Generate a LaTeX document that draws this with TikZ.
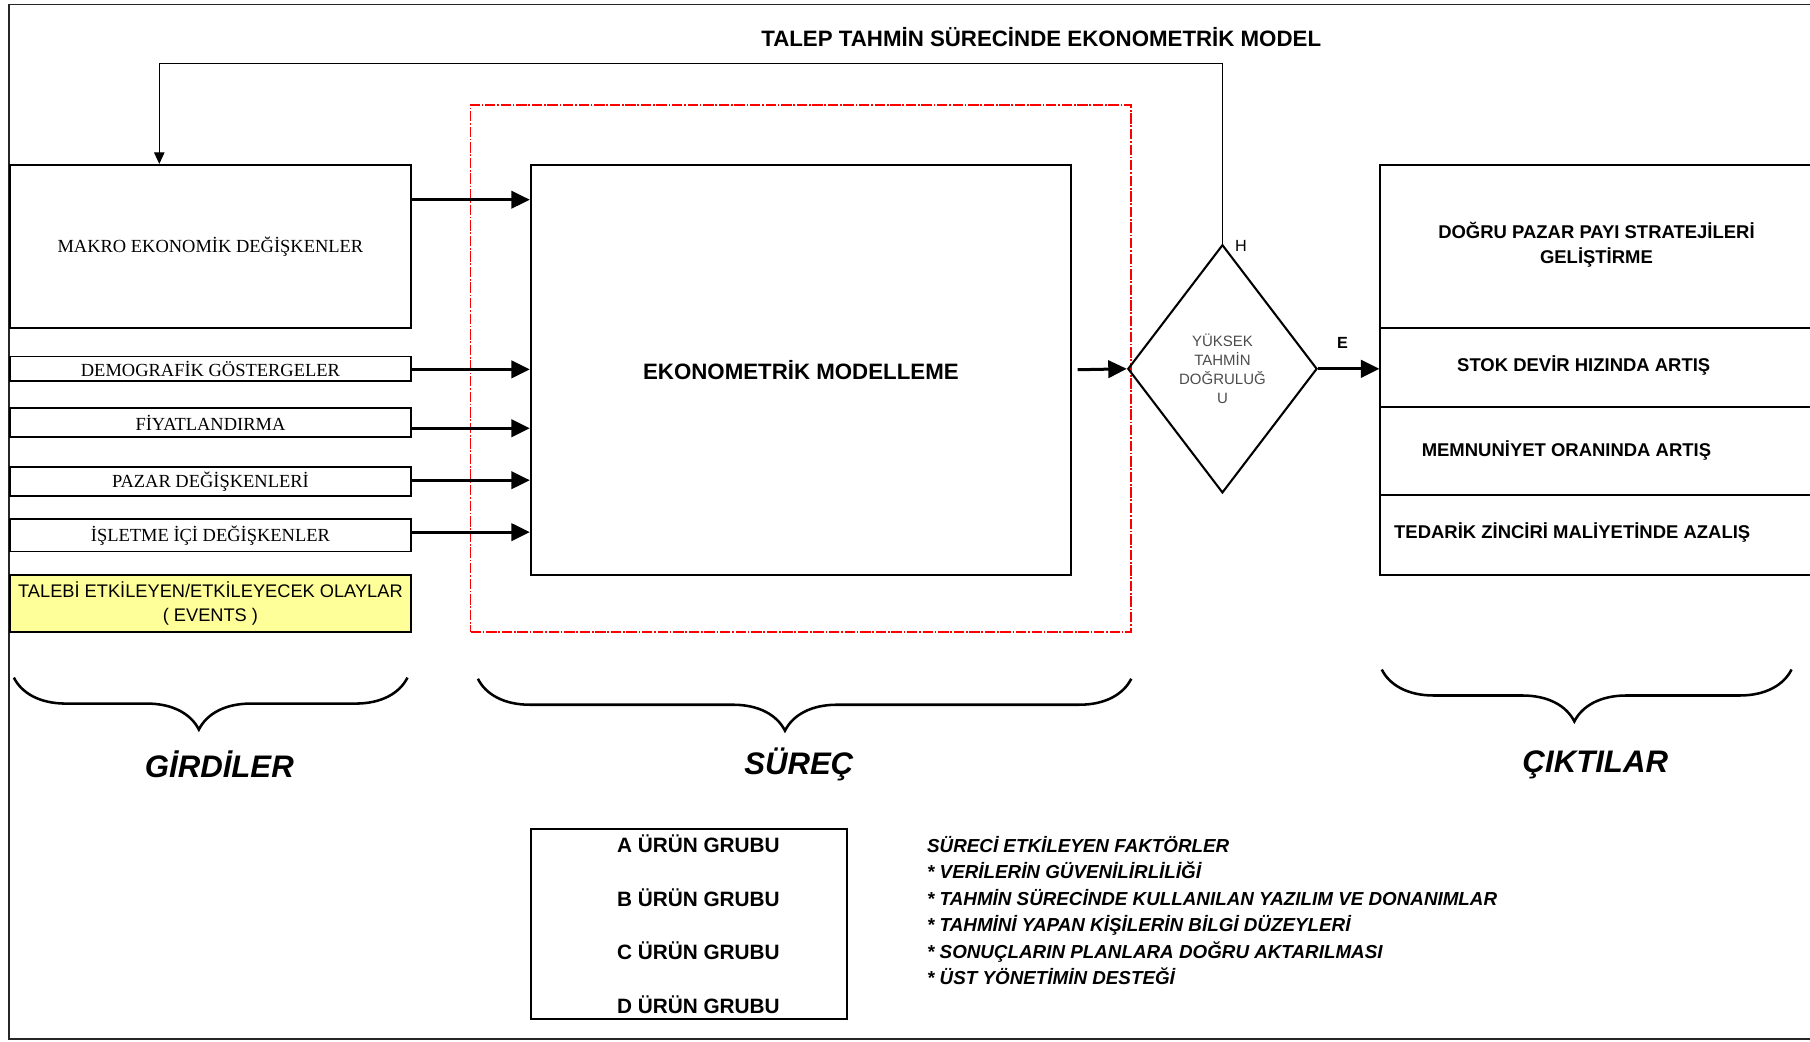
\documentclass[tikz,border=0pt]{standalone}
\usepackage{fontspec}
\setmainfont{Liberation Serif}
\setsansfont{Liberation Sans}
\usetikzlibrary{arrows.meta,shapes.geometric,decorations.pathreplacing,calc}
\definecolor{evyellow}{HTML}{FFFF99}
\newcommand\setfs[2]{\fontsize{#1}{#2}\selectfont}

\begin{document}
\begin{tikzpicture}[x=1pt,y=-1pt,
  boxline/.style={draw=black,line width=1.6pt},
  inbox/.style={boxline,anchor=north west,inner sep=0pt,minimum width=347pt,
    font=\setfs{16}{18}},
  outbox/.style={boxline,anchor=north west,inner sep=0pt,minimum width=420pt},
  outtext/.style={font=\sffamily\bfseries\setfs{16}{21},align=center},
  flow/.style={line width=2.6pt,-{Triangle[length=16pt,width=15pt]}},
  fb/.style={line width=0.9pt,-{Triangle[length=10pt,width=9pt]}},
  brc/.style={line width=2.2pt,decorate,
    decoration={brace,mirror,amplitude=45pt,aspect=0.47}},
  lbl/.style={font=\sffamily\bfseries\itshape\setfs{27}{30}},
  heading/.style={font=\sffamily\bfseries\setfs{19.3}{22}}
]
\useasboundingbox (0,0) rectangle (1568,902);
\clip (0,0) rectangle (1568,902);

% outer frame (open to the right)
\draw[line width=1.4pt,black!85] (1600,4) -| (8,900) -- (1600,900);

% title
\node[heading] (title) at (902,32) {TALEP TAHMİN SÜRECİNDE EKONOMETRİK MODEL};

% inputs
\node[inbox,minimum height=141pt] (makro) at (8,142) {MAKRO EKONOMİK DEĞİŞKENLER};
\node[inbox,minimum height=21pt] (demo) at (8,308) {DEMOGRAFİK GÖSTERGELER};
\node[inbox,minimum height=25pt] (fiyat) at (8,353) {FİYATLANDIRMA};
\node[inbox,minimum height=25pt] (pazar) at (8,404) {PAZAR DEĞİŞKENLERİ};
\node[inbox,minimum height=28pt] (islet) at (8,449) {İŞLETME İÇİ DEĞİŞKENLER};
\node[inbox,minimum height=50pt,fill=evyellow,align=center,
  font=\sffamily\setfs{15.8}{20}] (events) at (8,497)
  {TALEBİ ETKİLEYEN/ETKİLEYECEK OLAYLAR\\( EVENTS )};

% process
\node[draw=red,line width=1.4pt,dash pattern=on 9pt off 1.5pt on 1.5pt off 1.5pt,
  anchor=north west,inner sep=0pt,minimum width=572pt,minimum height=457pt]
  (surec) at (407,90) {};
\node[boxline,anchor=north west,inner sep=0pt,minimum width=468pt,
  minimum height=355pt,heading] (model) at (459,142) {EKONOMETRİK MODELLEME};

% decision
\node[diamond,boxline,line width=1.8pt,minimum width=164pt,minimum height=215pt,
  inner sep=0pt,align=center,text=black!70,font=\sffamily\setfs{13}{16.5}]
  (dia) at (1059,319.5) {YÜKSEK\\TAHMİN\\DOĞRULUĞ\\U};
\node[font=\sffamily\setfs{14}{16}] (hlab) at (1075,213) {H};
\node[font=\sffamily\bfseries\setfs{14}{16}] (elab) at (1163,297) {E};

% outputs
\node[outbox,minimum height=141pt] (o1) at (1195,142) {};
\node[outbox,minimum height=69pt] (o2) at (1195,283) {};
\node[outbox,minimum height=76pt] (o3) at (1195,352) {};
\node[outbox,minimum height=69pt] (o4) at (1195,428) {};
\node[outtext] (t1) at (1383,212) {DOĞRU PAZAR PAYI STRATEJİLERİ\\GELİŞTİRME};
\node[outtext] (t2) at (1372,317) {STOK DEVİR HIZINDA ARTIŞ};
\node[outtext] (t3) at (1357,390) {MEMNUNİYET ORANINDA ARTIŞ};
\node[outtext] (t4) at (1362,461) {TEDARİK ZİNCİRİ MALİYETİNDE AZALIŞ};

% connectors
\draw[flow] (makro.east |- 0,173) -- (model.west |- 0,173);
\draw[flow] (demo.east |- 0,320) -- (model.west |- 0,320);
\draw[flow] (fiyat.east |- 0,371) -- (model.west |- 0,371);
\draw[flow] (pazar.east |- 0,416) -- (model.west |- 0,416);
\draw[flow] (islet.east |- 0,461) -- (model.west |- 0,461);
\draw[flow] (model.east) ++(5,0) -- (dia.west);
\draw[flow] (dia.east) -- (dia.east -| o2.west);
\coordinate (fbturn) at (138,55);
\draw[fb] (dia.north) |- (fbturn) -- (fbturn |- makro.north);

% braces and section labels
\draw[brc] (12,587) -- (353,587);
\draw[brc] (414,588) -- (980,588);
\draw[brc] (1197,580) -- (1552,580);
\node[lbl] (gird) at (190,662) {GİRDİLER};
\node[lbl] (surecl) at (692,662) {SÜREÇ};
\node[lbl] (cikt) at (1382,663) {ÇIKTILAR};

% product groups
\node[boxline,anchor=north west,inner sep=0pt,minimum width=274pt,
  minimum height=165pt] (urun) at (459,717) {};
\node[font=\sffamily\bfseries\setfs{18}{46.3},align=center] (urunt) at (605,800.5)
  {A ÜRÜN GRUBU\\B ÜRÜN GRUBU\\C ÜRÜN GRUBU\\D ÜRÜN GRUBU};

% factors
\node[font=\sffamily\bfseries\itshape\setfs{16.3}{23},align=left,anchor=north west,
  inner sep=0pt] (fakt) at (803,724)
  {SÜRECİ ETKİLEYEN FAKTÖRLER\\
   * VERİLERİN GÜVENİLİRLİLİĞİ\\
   * TAHMİN SÜRECİNDE KULLANILAN YAZILIM VE DONANIMLAR\\
   * TAHMİNİ YAPAN KİŞİLERİN BİLGİ DÜZEYLERİ\\
   * SONUÇLARIN PLANLARA DOĞRU AKTARILMASI\\
   * ÜST YÖNETİMİN DESTEĞİ};
\end{tikzpicture}
\end{document}
